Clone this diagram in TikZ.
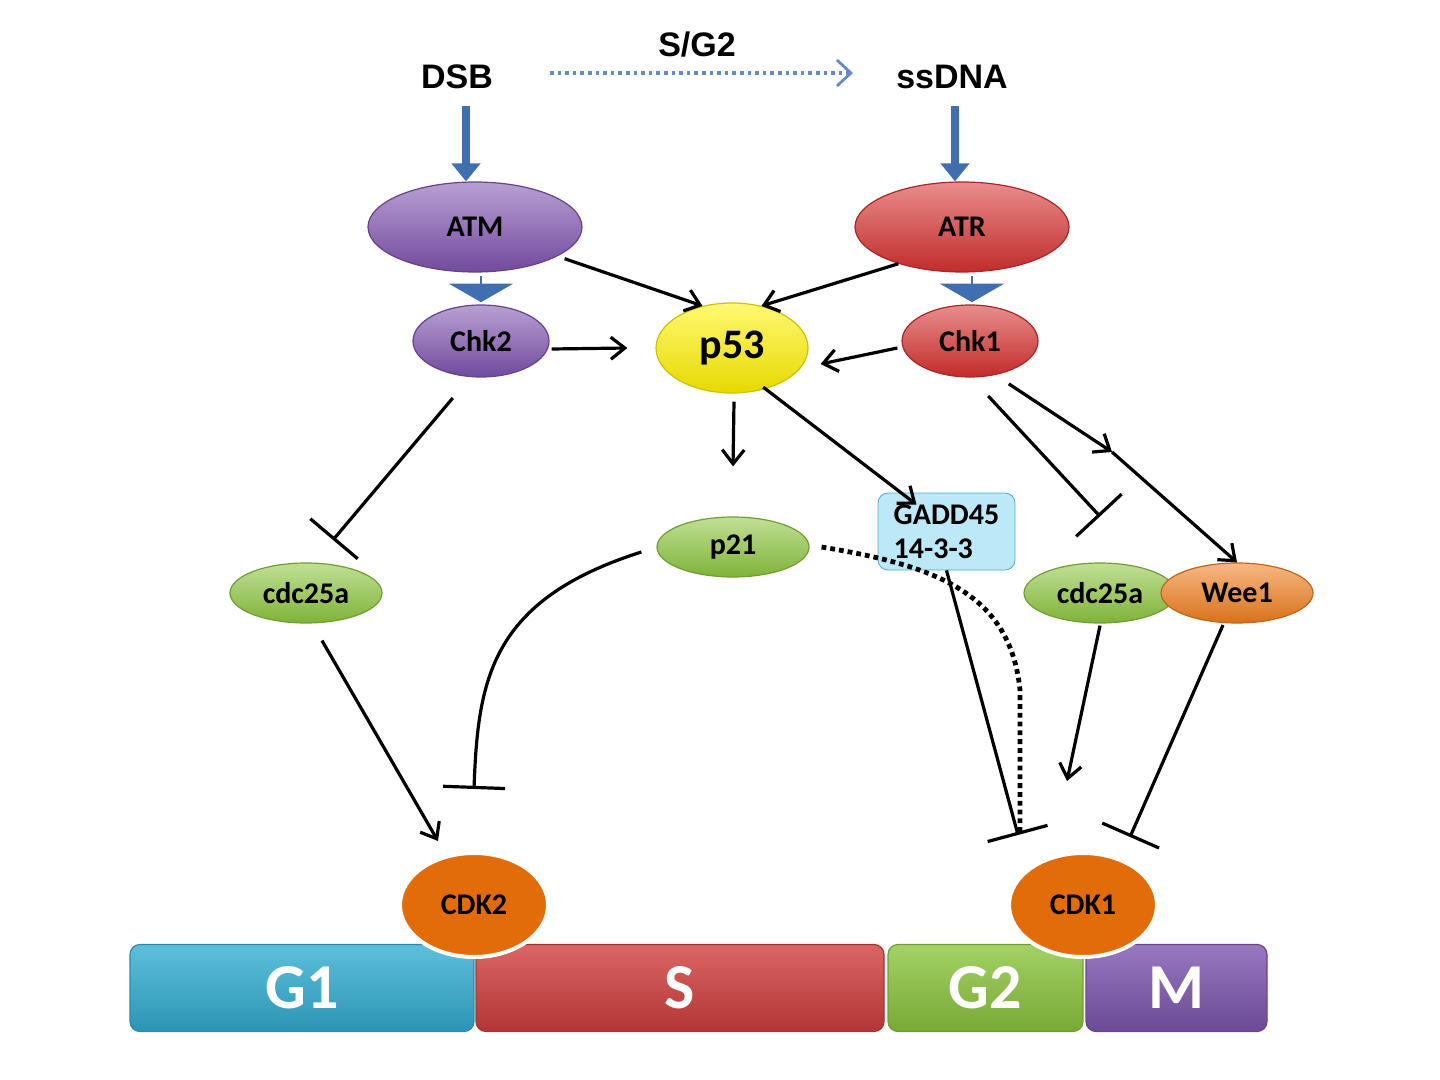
\documentclass[tikz,border=0pt]{standalone}
\usepackage{fontspec}
\setmainfont{Carlito}
\newfontfamily\arialf{Liberation Sans}
\usetikzlibrary{arrows.meta,shapes.geometric,shapes.arrows}
\definecolor{purp}{HTML}{7E52AE}
\definecolor{redc}{HTML}{D6302F}
\definecolor{grn}{HTML}{8DC63F}
\definecolor{org}{HTML}{F07E1E}
\definecolor{cdk}{HTML}{E36C0A}
\definecolor{ablue}{HTML}{3F6FB0}
\definecolor{ylw}{HTML}{FFF200}
\definecolor{g1c}{HTML}{34AFD3}
\definecolor{sc}{HTML}{D23F3F}
\definecolor{mc}{HTML}{7E57B0}
\definecolor{gadd}{HTML}{BDE8F8}
\begin{document}
\begin{tikzpicture}[x=0.5pt,y=-0.5pt,
  ell/.style={ellipse,inner sep=0pt,font=\bfseries\fontsize{15}{15}\selectfont},
  sh/.style={top color=#1!55!white,bottom color=#1!90!black,draw=#1!80!black,line width=0.6pt},
  act/.style={line width=1.6pt,-{Straight Barb[length=7pt,width=11pt,line width=1.6pt]}},
  inh/.style={line width=1.6pt,-{Bar[width=31pt,line width=1.6pt]}},
  phase/.style={rounded corners=5pt,draw=#1!80!black,line width=0.6pt,top color=#1!80!white,bottom color=#1!85!black,text=white,font=\bfseries\fontsize{32}{32}\selectfont,inner sep=0pt}]
\useasboundingbox (0,0) rectangle (1440,1080);
% phases
\node[phase=g1c,minimum width=172pt,minimum height=43.5pt] (g1) at (302,988) {G1};
\node[phase=sc,minimum width=204pt,minimum height=43.5pt] (s) at (680,988) {S};
\node[phase=grn,minimum width=97.5pt,minimum height=43.5pt] (g2) at (985.5,988) {G2};
\node[phase=mc,minimum width=90.5pt,minimum height=43.5pt] (m) at (1176.5,988) {M};
% top
\node[font=\arialf\bfseries\fontsize{17}{17}\selectfont] (dsb) at (457,77) {DSB};
\node[font=\arialf\bfseries\fontsize{17}{17}\selectfont] (ssdna) at (952,77) {ssDNA};
\node[font=\arialf\bfseries\fontsize{17}{17}\selectfont] (sg2) at (697,45) {S/G2};
\draw[ablue!80!white,line width=1.8pt,dotted,-{Straight Barb[length=7pt,width=13pt,line width=1.4pt]}] (dsb.east)++(50,-4) coordinate (d1) -- (853,73) coordinate (d2);
% nodes
\node[ell,sh=purp,minimum width=107pt,minimum height=45pt] (atm) at (475,227) {ATM};
\node[ell,sh=redc,minimum width=107pt,minimum height=45pt] (atr) at (962,227) {ATR};
\node[ell,sh=purp,minimum width=68pt,minimum height=36pt] (chk2) at (481,341) {Chk2};
\node[ell,sh=redc,minimum width=68pt,minimum height=36pt] (chk1) at (970,341) {Chk1};
\node[ell,sh=ylw,draw=ylw!80!black,minimum width=76pt,minimum height=45pt,font=\bfseries\fontsize{21}{21}\selectfont] (p53) at (732,348) {p53};
\node[ell,sh=grn,minimum width=76pt,minimum height=30pt] (p21) at (733,547) {p21};
\node[draw=cyan!60!gray,fill=gadd,rounded corners=5pt,minimum width=68.5pt,minimum height=38.5pt,align=left,inner sep=2pt,font=\bfseries\fontsize{15}{17}\selectfont] (gadd) at (946.5,531.5) {GADD45\\14-3-3};
\node[ell,sh=grn,minimum width=76pt,minimum height=30pt] (c25l) at (306,593) {cdc25a};
\node[ell,sh=grn,minimum width=76pt,minimum height=30pt] (c25r) at (1100,593) {cdc25a};
\node[ell,sh=org,minimum width=76pt,minimum height=30pt] (wee1) at (1237,593) {Wee1};
\node[ell,fill=cdk,draw=white,line width=2pt,minimum width=74pt,minimum height=52pt] (cdk2) at (474,905) {CDK2};
\node[ell,fill=cdk,draw=white,line width=2pt,minimum width=74pt,minimum height=52pt] (cdk1) at (1083,905) {CDK1};
% thick blue arrows
\draw[ablue,line width=4pt,-{Triangle[length=9pt,width=14pt]}] (dsb.south -| 466,0) ++(0,10) -- (atm.north -| 466,0);
\draw[ablue,line width=4pt,-{Triangle[length=9pt,width=14pt]}] (ssdna.south -| 955,0) ++(0,10) -- (atr.north -| 955,0);
\node[single arrow,fill=ablue,draw=none,shape border rotate=270,minimum height=13pt,minimum width=32pt,single arrow head extend=8pt,single arrow tip angle=120,inner sep=0pt] (ba1) at (481,289) {};
\node[single arrow,fill=ablue,draw=none,shape border rotate=270,minimum height=13pt,minimum width=32pt,single arrow head extend=8pt,single arrow tip angle=120,inner sep=0pt] (ba2) at (972,289) {};
% connectors
\draw[act] (atm.-20) ++(8,2) -- (p53.125);
\draw[act] (atr.-150) -- (p53.55);
\draw[act] (chk2.east) ++(2,8) -- ([xshift=-14pt]p53.west);
\draw[act] (chk1.west) ++(-4,7) -- ([xshift=6pt,yshift=-8pt]p53.east);
\draw[act] (p53.south) ++(2,8) -- ([yshift=25pt]p21.north);
\draw[act] (p53.-45) ++(-8,0) -- ([xshift=-15pt,yshift=-6pt]gadd.north);
\draw[act] (chk1.-40) ++(2,12) -- (1112,452) coordinate (mid);
\draw[act] (mid) -- (wee1.north);
\draw[inh] (chk1.-60) ++(-2,20) -- ([yshift=23pt]c25r.north);
\draw[inh] (chk2.-120) ++(-8,22) -- (333,540) coordinate (c2b);
\draw[act] (c25l.south) ++(16,17) -- ([xshift=-18pt,yshift=5pt]cdk2.north);
\draw[inh] (p21.west) ++(-15,5) .. controls (490,600) and (478,680) .. ([yshift=31pt]cdk2.north);
\draw[inh] ([xshift=0pt]gadd.south) -- (1018,835) coordinate (gb);
\draw[line width=2.4pt,dotted] (p21.east) ++(12,0) .. controls (930,565) and (1010,590) .. (1020,690) -- (1020,835);
\draw[act] (c25r.south) ++(0,2) -- ([xshift=-8pt,yshift=35pt]cdk1.north);
\draw[inh] (wee1.-115) ++(0,2) -- (1130,837) coordinate (wb);
\end{tikzpicture}
\end{document}
